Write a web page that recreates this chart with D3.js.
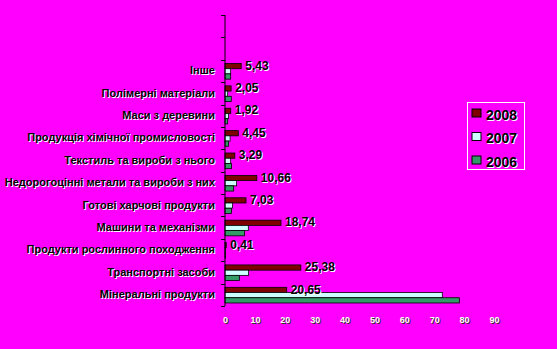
<!DOCTYPE html>
<html>
<head>
<meta charset="utf-8">
<script src="https://cdn.jsdelivr.net/npm/d3@7"></script>
<style>
  body { margin: 0; background: #ff00ff; }
  svg { display: block; font-family: "Liberation Sans", Arial, sans-serif; font-weight: bold; }
</style>
</head>
<body>
<script>
// categories, top to bottom (two empty slots above)
var categories = ["", " ", "Інше", "Полімерні матеріали", "Маси з деревини",
  "Продукція хімічної промисловості", "Текстиль та вироби з нього",
  "Недорогоцінні метали та вироби з них", "Готові харчові продукти",
  "Машини та механізми", "Продукти рослинного походження",
  "Транспортні засоби", "Мінеральні продукти"];

var years = ["2008", "2007", "2006"];
var v2008 = [null, null, 5.43, 2.05, 1.92, 4.45, 3.29, 10.66, 7.03, 18.74, 0.41, 25.38, 20.65];
var v2007 = [null, null, 1.9, 0.9, 1.2, 1.7, 1.9, 3.9, 2.5, 7.8, 0.2, 7.9, 72.7];
var v2006 = [null, null, 1.9, 2.1, 0.9, 1.2, 2.2, 2.9, 2.2, 6.5, 0.2, 4.8, 78.4];
var labels2008 = [null, null, "5,43", "2,05", "1,92", "4,45", "3,29", "10,66", "7,03", "18,74", "0,41", "25,38", "20,65"];
var xTicks = [0, 10, 20, 30, 40, 50, 60, 70, 80, 90];

var colors = { "2008": "#800000", "2007": "#ccffff", "2006": "#339966" };

var width = 557, height = 349;

var svg = d3.select("body").append("svg")
  .attr("width", width)
  .attr("height", height);

var x = d3.scaleLinear().domain([0, 90]).range([225, 494]);

var y = d3.scaleBand().domain(categories).range([15, 306])
  .paddingInner(0.3).paddingOuter(0.15).align(0.55);

var y1 = d3.scaleBand().domain(years).range([0, y.bandwidth()]);

// data rows
var rows = categories.map(function (c, i) {
  return { cat: c, "2008": v2008[i], "2007": v2007[i], "2006": v2006[i], label: labels2008[i] };
});

// bars
var groups = svg.append("g").selectAll("g")
  .data(rows.filter(function (d) { return d["2008"] != null; }))
  .enter().append("g")
  .attr("transform", function (d) { return "translate(0," + y(d.cat) + ")"; });

groups.selectAll("rect")
  .data(function (d) { return years.map(function (k) { return { key: k, value: d[k] }; }); })
  .enter().append("rect")
  .attr("x", x(0))
  .attr("y", function (d) { return y1(d.key); })
  .attr("width", function (d) { return x(d.value) - x(0); })
  .attr("height", y1.bandwidth())
  .style("fill", function (d) { return colors[d.key]; })
  .style("stroke", "#000")
  .style("stroke-width", 0.8);

// left axis line and boundary ticks
var step = y.step();
var y0 = 15;
svg.append("line")
  .attr("x1", x(0)).attr("x2", x(0))
  .attr("y1", y0).attr("y2", 306)
  .style("stroke", "#000").style("stroke-width", 1);

svg.append("g").selectAll("line")
  .data(d3.range(categories.length + 1))
  .enter().append("line")
  .attr("x1", x(0) - 4).attr("x2", x(0))
  .attr("y1", function (i) { return Math.round(y0 + i * step) + 0.5; })
  .attr("y2", function (i) { return Math.round(y0 + i * step) + 0.5; })
  .style("stroke", "#000");

// category labels (white shadow, then black)
var catG = svg.append("g");
[["#fff", 1], ["#000", 0]].forEach(function (s) {
  catG.append("g").selectAll("text")
    .data(rows.filter(function (d) { return d["2008"] != null; }))
    .enter().append("text")
    .attr("x", 215 + s[1])
    .attr("y", function (d) { return y(d.cat) + y.bandwidth() / 2 + s[1]; })
    .attr("text-anchor", "end")
    .attr("dominant-baseline", "middle")
    .style("font-size", "11px")
    .style("fill", s[0])
    .text(function (d) { return d.cat; });
});

// value labels for 2008
var valG = svg.append("g");
[["#fff", 1], ["#000", 0]].forEach(function (s) {
  valG.append("g").selectAll("text")
    .data(rows.filter(function (d) { return d.label != null; }))
    .enter().append("text")
    .attr("x", function (d) { return x(d["2008"]) + 4 + s[1]; })
    .attr("y", function (d) { return y(d.cat) + y1("2008") + y1.bandwidth() + 1 + s[1]; })
    .style("font-size", "12px")
    .style("fill", s[0])
    .text(function (d) { return d.label; });
});

// bottom axis (labels only)
[["#333", 1], ["#fff", 0]].forEach(function (s) {
  var ax = svg.append("g")
    .attr("transform", "translate(" + s[1] + "," + (306 + s[1]) + ")")
    .call(d3.axisBottom(x).tickValues(xTicks).tickSize(0).tickPadding(11));
  ax.select(".domain").remove();
  ax.selectAll("text")
    .style("font-size", "9px")
    .style("font-weight", "bold")
    .style("font-family", "'Liberation Sans', Arial, sans-serif")
    .style("fill", s[0]);
});

// legend
var legend = svg.append("g");
legend.append("rect")
  .attr("x", 467.5).attr("y", 102.5)
  .attr("width", 57).attr("height", 67)
  .style("fill", "none").style("stroke", "#fff");

var li = legend.selectAll("g")
  .data(years)
  .enter().append("g")
  .attr("transform", function (d, i) { return "translate(472," + (109 + i * 23.5) + ")"; });

li.append("rect")
  .attr("width", 9).attr("height", 8)
  .style("fill", function (d) { return colors[d]; })
  .style("stroke", "#000");

li.append("text").attr("x", 15).attr("y", 11.5)
  .style("font-size", "14px").style("fill", "#fff")
  .text(function (d) { return d; });
li.append("text").attr("x", 14).attr("y", 10.5)
  .style("font-size", "14px").style("fill", "#000")
  .text(function (d) { return d; });
</script>
</body>
</html>
